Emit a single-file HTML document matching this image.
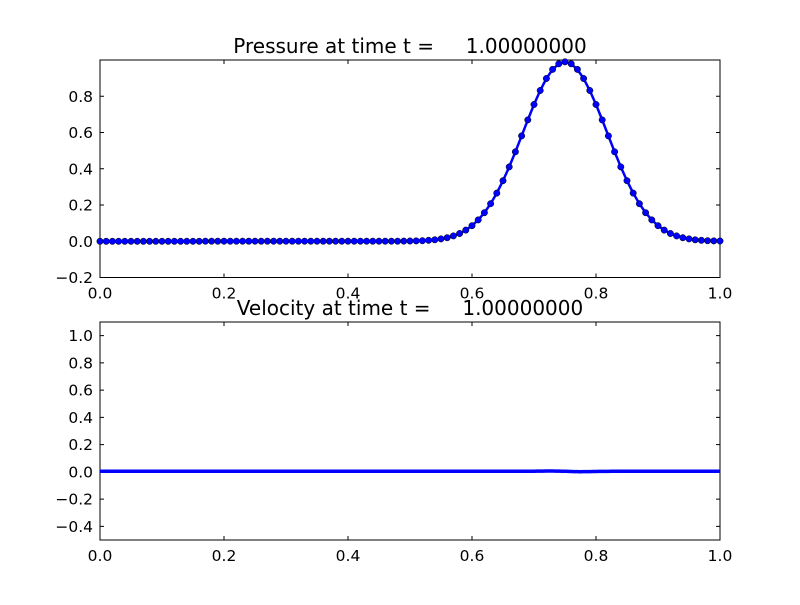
<!DOCTYPE html>
<html><head><meta charset="utf-8"><style>
html,body{margin:0;padding:0;background:#fff;}
svg text{font-family:"DejaVu Sans","Liberation Sans",sans-serif;fill:#000;}
</style></head><body>
<svg id="s" width="800" height="600" xmlns="http://www.w3.org/2000/svg">
<rect width="800" height="600" fill="#fff"/>
<text x="410" y="53" font-size="20" text-anchor="middle" xml:space="preserve">Pressure at time t =     1.00000000</text>
<text x="410" y="315" font-size="20" text-anchor="middle" xml:space="preserve">Velocity at time t =     1.00000000</text>
<g id="g"></g>
</svg>
<script>
var g=document.getElementById('g'),h='';
function X(x){return 100+620*x;}
function Y1(y){return 277.5-(y+0.2)*181.25;}
function Y2(y){return 540-(y+0.5)*136.25;}
function axes(top,bot,ys,Y){
  h+='<rect x="100" y="'+top+'" width="620" height="'+(bot-top)+'" fill="none" stroke="#000" stroke-width="1"/>';
  for(var i=0;i<=5;i++){var x=X(i*0.2);
    h+='<line x1="'+x+'" y1="'+bot+'" x2="'+x+'" y2="'+(bot-4)+'" stroke="#000"/><line x1="'+x+'" y1="'+top+'" x2="'+x+'" y2="'+(top+4)+'" stroke="#000"/>';
    h+='<text x="'+x+'" y="'+(bot+21)+'" font-size="15.5" text-anchor="middle">'+(i*0.2).toFixed(1)+'</text>';}
  ys.forEach(function(v){var y=Y(v);
    h+='<line x1="100" y1="'+y+'" x2="104" y2="'+y+'" stroke="#000"/><line x1="720" y1="'+y+'" x2="716" y2="'+y+'" stroke="#000"/>';
    h+='<text x="93" y="'+(y+5.5)+'" font-size="15.5" text-anchor="end">'+(v<0?'\u2212':'')+Math.abs(v).toFixed(1)+'</text>';});
}
axes(60,277.5,[-0.2,0,0.2,0.4,0.6,0.8],Y1);
axes(322,540,[-0.4,-0.2,0,0.2,0.4,0.6,0.8,1.0],Y2);
var p='',dots='';
for(var i=0;i<=100;i++){var x=i/100,d=x-0.75;var y=0.99*Math.exp(-d*d/0.0092);
  p+=(i?'L':'M')+X(x).toFixed(1)+','+Y1(y).toFixed(1);
  dots+='<circle cx="'+X(x).toFixed(1)+'" cy="'+Y1(y).toFixed(1)+'" r="3.2" fill="#0000ff" stroke="#000" stroke-width="0.5"/>';}
h+='<path d="'+p+'" fill="none" stroke="#0000ff" stroke-width="2.5"/>'+dots;
var q='';
for(var i=0;i<=200;i++){var x=i/200,d=x-0.75;var y=0.004-0.008*d/0.03*Math.exp(-d*d/0.0012)*0.6;
  q+=(i?'L':'M')+X(x).toFixed(1)+','+Y2(y).toFixed(1);}
h+='<path d="'+q+'" fill="none" stroke="#0000ff" stroke-width="3.5"/>';
g.innerHTML=h;
</script>
</body></html>
